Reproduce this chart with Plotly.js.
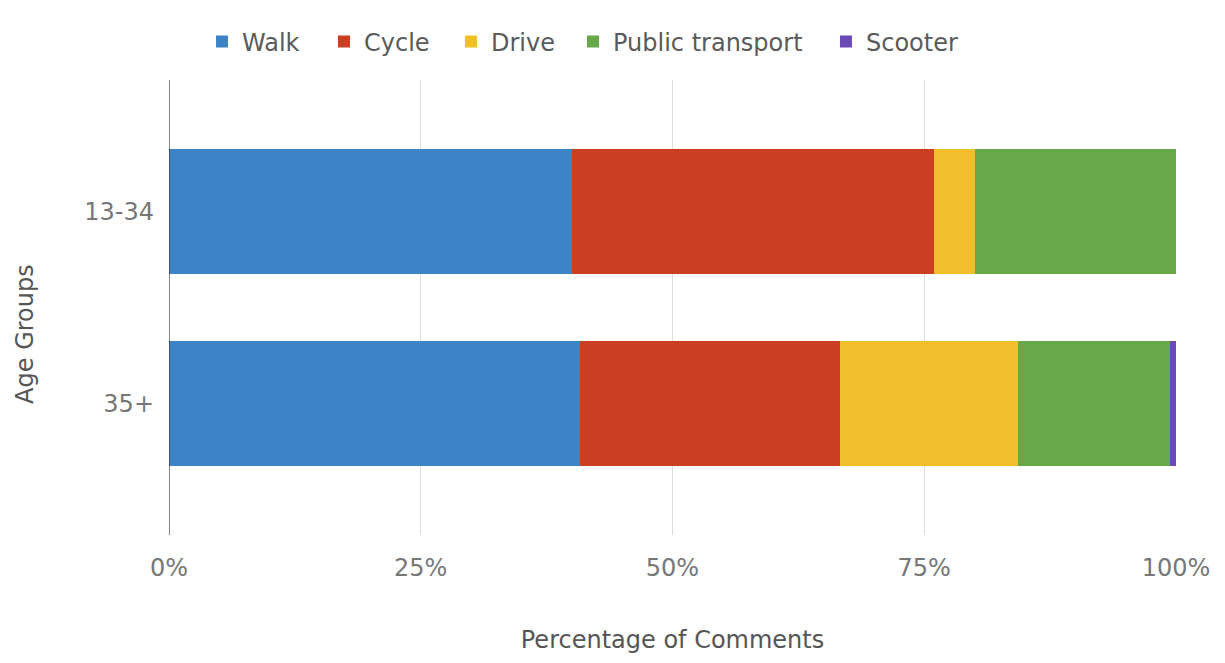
<!DOCTYPE html>
<html>
<head>
<meta charset="utf-8">
<script src="https://cdn.plot.ly/plotly-3.0.1.min.js"></script>
<style>html,body{margin:0;padding:0;background:#fff;}#chart{width:1225px;height:663px;}</style>
</head>
<body>
<div id="chart"></div>
<script>
const categories = ["13-34", "35+"];
const seriesNames = ["Walk", "Cycle", "Drive", "Public transport", "Scooter"];
const walk = [40.0, 40.8];
const cycle = [36.0, 25.8];
const drive = [4.0, 17.7];
const publicTransport = [20.0, 15.1];
const scooter = [0.0, 0.6];
const tickVals = [0, 25, 50, 75, 100];
const tickText = ["0%", "25%", "50%", "75%", "100%"];
const colors = ["#3d84c6", "#cc3e22", "#f0bf2b", "#66a84a", "#6a4bb5"];

const seriesValues = [walk, cycle, drive, publicTransport, scooter];
const legendIds = ["legend", "legend2", "legend3", "legend4", "legend5"];
const legendX = [0.0328, 0.1539, 0.2800, 0.4012, 0.6524];

const data = seriesNames.map((name, i) => ({
  type: "bar",
  orientation: "h",
  name: name,
  y: categories,
  x: seriesValues[i],
  legend: legendIds[i],
  marker: {color: colors[i], line: {width: 0}},
  hoverinfo: "x+name"
}));

const FONT = "DejaVu Sans, Liberation Sans, Arial, sans-serif";
const layout = {
  width: 1225, height: 663,
  margin: {l: 169, r: 49, t: 80, b: 128, autoexpand: false},
  paper_bgcolor: "#fff", plot_bgcolor: "#fff",
  barmode: "stack",
  bargap: 0.35,
  font: {family: FONT, size: 24, color: "#757575"},
  showlegend: true,
  xaxis: {
    range: [0, 100], tickvals: tickVals, ticktext: tickText,
    showgrid: true, gridcolor: "#dddddd", gridwidth: 1, zeroline: false,
    showline: false, ticks: "", ticklen: 0, ticklabelstandoff: 16,
    tickfont: {family: FONT, size: 24, color: "#777"}, automargin: false,
    title: {text: "Percentage of Comments", font: {family: FONT, size: 24, color: "#555"}, standoff: 50}
  },
  yaxis: {
    type: "category", categoryarray: categories, categoryorder: "array",
    range: [1.685, -0.685],
    showgrid: false, zeroline: false, showline: false, ticks: "",
    ticklabelstandoff: 14, automargin: false,
    tickfont: {family: FONT, size: 24, color: "#777"}
  },
  annotations: [{
    text: "Age Groups", xref: "paper", yref: "paper", x: -0.143, y: 0.442,
    xanchor: "center", yanchor: "middle", textangle: -90, showarrow: false,
    font: {family: FONT, size: 24, color: "#555"}
  }],
  shapes: [{
    type: "line", xref: "x", yref: "paper", x0: 0, x1: 0, y0: 0, y1: 1,
    line: {color: "#333", width: 1.2}, layer: "above"
  }]
};
legendIds.forEach((id, i) => {
  layout[id] = {
    orientation: "h", x: legendX[i], xanchor: "left", y: 1.0835, yanchor: "middle",
    font: {family: FONT, size: 24, color: "#5a5a5a"}, itemclick: false,
    bgcolor: "rgba(0,0,0,0)"
  };
});

Plotly.newPlot("chart", data, layout, {displayModeBar: false, staticPlot: true});
</script>
</body>
</html>
